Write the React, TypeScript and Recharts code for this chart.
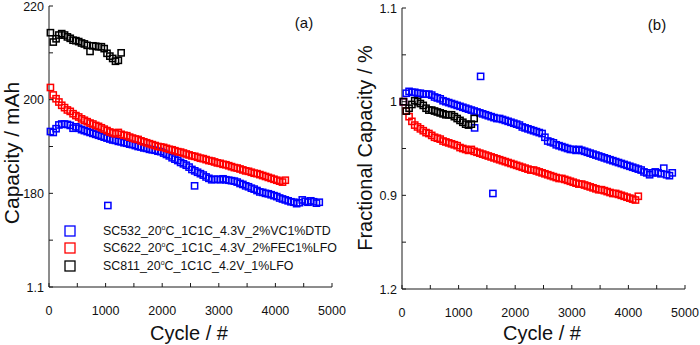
import React from 'react';
import { ScatterChart, Scatter, XAxis, YAxis, Legend } from 'recharts';

const FONT = '"Liberation Sans", Arial, Helvetica, sans-serif';
const AXIS = '#1a1a1a';

// cycle numbers shared by the series
const cycles = [
  25, 75, 125, 175, 225, 275, 325, 375, 425, 475,
  525, 575, 625, 675, 725, 775, 825, 875, 925, 975,
  1025, 1075, 1125, 1175, 1225, 1275, 1325, 1375, 1425, 1475,
  1525, 1575, 1625, 1675, 1725, 1775, 1825, 1875, 1925, 1975,
  2025, 2075, 2125, 2175, 2225, 2275, 2325, 2375, 2425, 2475,
  2525, 2575, 2625, 2675, 2725, 2775, 2825, 2875, 2925, 2975,
  3025, 3075, 3125, 3175, 3225, 3275, 3325, 3375, 3425, 3475,
  3525, 3575, 3625, 3675, 3725, 3775, 3825, 3875, 3925, 3975,
  4025, 4075, 4125, 4175, 4225, 4275, 4325, 4375, 4425, 4475,
  4525, 4575, 4625, 4675, 4725, 4775,
];

// (a) capacity / mAh
const capBlue = [
  193.2, 193.0, 193.8, 194.6, 194.8, 194.8, 194.7, 194.5, 193.9, 194.2,
  193.9, 193.6, 193.4, 193.2, 193.0, 192.8, 192.6, 192.4, 192.2, 192.0,
  191.8, 191.6, 191.4, 191.3, 191.1, 191.0, 190.8, 190.7, 190.5, 190.4,
  190.2, 190.0, 189.9, 189.7, 189.6, 189.4, 189.3, 189.2, 189.0, 188.9,
  188.6, 188.3, 188.0, 187.6, 187.3, 187.0, 186.6, 186.3, 186.0, 185.6,
  185.1, 184.8, 184.5, 184.2, 183.9, 183.5, 183.2, 182.9, 183.0, 183.0,
  182.9, 183.1, 182.9, 182.8, 182.7, 182.6, 182.4, 182.1, 181.9, 181.6,
  181.4, 181.1, 180.9, 180.6, 180.3, 180.2, 180.0, 179.9, 179.7, 179.5,
  179.3, 179.0, 178.8, 178.6, 178.4, 178.2, 178.1, 177.8, 178.0, 178.6,
  178.3, 178.1, 178.4, 178.2, 177.9, 178.1,
];
const capBlueOutlierCycles = [1040, 2572];
const capBlueOutliers = [177.4, 181.6];
const capRed = [
  202.6, 201.0, 200.2, 199.5, 198.8, 198.3, 197.8, 197.5, 197.0, 196.6,
  196.3, 195.9, 195.6, 195.3, 195.0, 194.8, 194.5, 194.3, 194.0, 193.7,
  193.4, 193.1, 192.9, 192.7, 193.0, 192.6, 192.4, 192.3, 192.0, 191.8,
  191.6, 191.5, 191.2, 191.0, 190.8, 190.6, 190.4, 190.2, 190.0, 189.9,
  189.8, 189.6, 189.4, 189.3, 189.1, 188.9, 188.8, 188.6, 188.4, 188.2,
  188.0, 187.9, 187.7, 187.5, 187.4, 187.2, 187.0, 186.9, 186.7, 186.5,
  186.4, 186.2, 186.1, 185.9, 185.7, 185.5, 185.4, 185.2, 185.0, 184.8,
  184.7, 184.5, 184.3, 184.2, 184.0, 183.8, 183.6, 183.4, 183.2, 183.0,
  182.8, 182.6, 182.4, 182.8,
];
const capBlack = [
  214.3, 212.3, 213.0, 213.8, 214.1, 213.8, 213.4, 213.1, 212.7, 212.6,
  212.4, 212.1, 211.9, 211.6, 210.3, 211.5, 211.4, 211.3, 211.3, 210.9,
  209.9, 209.3, 208.8, 208.2, 208.4, 210.0,
];

// (b) fractional capacity
const fracBlue = [
  1.000, 1.009, 1.011, 1.010, 1.010, 1.009, 1.009, 1.008, 1.008, 1.008,
  1.007, 1.005, 1.004, 1.003, 1.001, 1.000, 0.999, 0.998, 0.997, 0.996,
  0.995, 0.994, 0.993, 0.992, 0.991, 0.990, 0.989, 0.988, 0.987, 0.986,
  0.985, 0.984, 0.983, 0.982, 0.982, 0.981, 0.980, 0.979, 0.978, 0.977,
  0.976, 0.975, 0.973, 0.972, 0.971, 0.970, 0.969, 0.968, 0.967, 0.966,
  0.962, 0.958, 0.957, 0.956, 0.954, 0.953, 0.952, 0.951, 0.950, 0.949,
  0.949, 0.948, 0.949, 0.948, 0.947, 0.946, 0.945, 0.944, 0.943, 0.942,
  0.941, 0.940, 0.939, 0.938, 0.937, 0.936, 0.935, 0.934, 0.933, 0.932,
  0.931, 0.930, 0.929, 0.928, 0.927, 0.925, 0.924, 0.922, 0.924, 0.925,
  0.924, 0.923, 0.929, 0.922, 0.921, 0.924,
];
const fracBlueOutlierCycles = [1283, 1389, 1606];
const fracBlueOutliers = [0.972, 1.027, 0.902];
const fracRed = [
  1.000, 0.990, 0.984, 0.979, 0.975, 0.973, 0.971, 0.969, 0.967, 0.966,
  0.964, 0.962, 0.961, 0.960, 0.958, 0.957, 0.956, 0.955, 0.954, 0.953,
  0.951, 0.950, 0.949, 0.948, 0.949, 0.947, 0.946, 0.945, 0.944, 0.943,
  0.942, 0.941, 0.940, 0.939, 0.938, 0.937, 0.936, 0.935, 0.934, 0.933,
  0.932, 0.931, 0.930, 0.929, 0.928, 0.927, 0.927, 0.926, 0.925, 0.924,
  0.923, 0.922, 0.921, 0.920, 0.919, 0.918, 0.918, 0.917, 0.916, 0.915,
  0.914, 0.913, 0.912, 0.912, 0.911, 0.910, 0.909, 0.908, 0.907, 0.906,
  0.906, 0.905, 0.904, 0.903, 0.902, 0.902, 0.901, 0.900, 0.899, 0.898,
  0.897, 0.896, 0.895, 0.899,
];
const fracBlack = [
  1.000, 0.990, 0.993, 0.997, 1.001, 1.000, 0.998, 0.996, 0.993, 0.991,
  0.991, 0.990, 0.989, 0.988, 0.987, 0.986, 0.986, 0.986, 0.984, 0.982,
  0.980, 0.978, 0.976, 0.975, 0.976, 0.982,
];

const seriesNames = [
  'SC532_20°C_1C1C_4.3V_2%VC1%DTD',
  'SC622_20°C_1C1C_4.3V_2%FEC1%LFO',
  'SC811_20°C_1C1C_4.2V_1%LFO',
];
const seriesColors = ['#0000ff', '#ff0000', '#000000'];

const xTicks = [0, 500, 1000, 1500, 2000, 2500, 3000, 3500, 4000, 4500, 5000];
const xTickLabels = ['0', '', '1000', '', '2000', '', '3000', '', '4000', '', '5000'];
const capTicks = [160, 170, 180, 190, 200, 210, 220];
const capTickLabels = ['1.1', '', '180', '', '200', '', '220'];
const fracTicks = [0.8, 0.85, 0.9, 0.95, 1.0, 1.05, 1.1];
const fracTickLabels = ['1.2', '', '0.9', '', '1', '', '1.1'];

const toPoints = (xs: number[], ys: number[]) => ys.map((y, i) => ({ x: xs[i], y }));

const square = (color: string) => (props: any) => {
  const { cx, cy } = props;
  if (cx == null || cy == null) return null;
  return (
    <rect x={cx - 3.1} y={cy - 3.1} width={6.2} height={6.2} fill="none" stroke={color} strokeWidth={1.5} />
  );
};

const leftTick = (ticks: number[], labels: string[]) => (props: any) => {
  const { x, y, payload } = props;
  const i = ticks.indexOf(payload.value);
  return (
    <g>
      <line x1={x} x2={x + 4} y1={y} y2={y} stroke={AXIS} strokeWidth={1} />
      <text x={x - 5} y={y} dy="0.36em" textAnchor="end" fontSize={12.5} fontFamily={FONT} fill="#111">
        {i >= 0 ? labels[i] : ''}
      </text>
    </g>
  );
};
const rightTick = (props: any) => {
  const { x, y } = props;
  return <line x1={x} x2={x - 4} y1={y} y2={y} stroke={AXIS} strokeWidth={1} />;
};
const bottomTick = (props: any) => {
  const { x, y, payload } = props;
  const i = xTicks.indexOf(payload.value);
  return (
    <g>
      <line x1={x} x2={x} y1={y} y2={y - 4} stroke={AXIS} strokeWidth={1} />
      <text x={x} y={y + 28} textAnchor="middle" fontSize={12.5} fontFamily={FONT} fill="#111">
        {i >= 0 ? xTickLabels[i] : ''}
      </text>
    </g>
  );
};

const renderName = (name: string) => {
  const parts = name.split('°');
  return (
    <span>
      {parts[0]}
      <sup style={{ fontSize: 7, verticalAlign: 'top', lineHeight: '8px' }}>o</sup>
      {parts[1]}
    </span>
  );
};

const LegendContent = (props: any) => {
  const payload = (props.payload || []) as any[];
  const items = payload.length ? payload.map((p: any) => ({ name: p.value, color: p.color })) :
    seriesNames.map((n, i) => ({ name: n, color: seriesColors[i] }));
  return (
    <div style={{ fontFamily: FONT, fontSize: 12.4, color: '#111' }}>
      {items.map((it: any) => (
        <div key={it.name} style={{ display: 'flex', alignItems: 'center', height: 17.5 }}>
          <svg width={12} height={12} style={{ display: 'block' }}>
            <rect x={1} y={1} width={10} height={10} fill="none" stroke={it.color} strokeWidth={1.3} />
          </svg>
          <div style={{ marginLeft: 27, whiteSpace: 'nowrap' }}>{renderName(it.name)}</div>
        </div>
      ))}
    </div>
  );
};

const Panel = (p: {
  blue: any[]; red: any[]; black: any[]; domain: [number, number]; ticks: number[]; labels: string[];
  margin: any; yWidth: number; xHeight: number; legend?: boolean;
}) => (
  <ScatterChart width={350} height={345} margin={p.margin}>
    <XAxis xAxisId="b" dataKey="x" type="number" domain={[0, 5000]} ticks={xTicks} interval={0}
      tickSize={0} tickMargin={0} tickLine={false} tick={bottomTick} height={p.xHeight}
      axisLine={{ stroke: AXIS, strokeWidth: 1 }} />
    <XAxis xAxisId="t" dataKey="x" type="number" orientation="top" domain={[0, 5000]} height={0}
      tick={false} tickLine={false} axisLine={{ stroke: AXIS, strokeWidth: 1 }} />
    <YAxis yAxisId="l" dataKey="y" type="number" domain={p.domain} ticks={p.ticks} interval={0}
      tickSize={0} tickMargin={0} tickLine={false} tick={leftTick(p.ticks, p.labels)} width={p.yWidth}
      axisLine={{ stroke: AXIS, strokeWidth: 1 }} />
    <YAxis yAxisId="r" dataKey="y" type="number" orientation="right" domain={p.domain} ticks={p.ticks}
      interval={0} tickSize={0} tickMargin={0} tickLine={false} tick={rightTick} width={0}
      axisLine={{ stroke: AXIS, strokeWidth: 1 }} />
    <Scatter name={seriesNames[0]} data={p.blue} xAxisId="b" yAxisId="l" fill={seriesColors[0]}
      shape={square(seriesColors[0])} isAnimationActive={false} />
    <Scatter name={seriesNames[1]} data={p.red} xAxisId="b" yAxisId="l" fill={seriesColors[1]}
      shape={square(seriesColors[1])} isAnimationActive={false} />
    <Scatter name={seriesNames[2]} data={p.black} xAxisId="b" yAxisId="l" fill={seriesColors[2]}
      shape={square(seriesColors[2])} isAnimationActive={false} />
    {p.legend ? (
      <Legend layout="vertical" align="center" verticalAlign="middle" content={LegendContent}
        wrapperStyle={{ position: 'absolute', left: 64, top: 222, width: 'auto', height: 'auto' }} />
    ) : null}
  </ScatterChart>
);

export default function App() {
  const capBlueData = toPoints(cycles, capBlue).concat(toPoints(capBlueOutlierCycles, capBlueOutliers));
  const capRedData = toPoints(cycles, capRed);
  const capBlackData = toPoints(cycles, capBlack);
  const fracBlueData = toPoints(cycles, fracBlue).concat(toPoints(fracBlueOutlierCycles, fracBlueOutliers));
  const fracRedData = toPoints(cycles, fracRed);
  const fracBlackData = toPoints(cycles, fracBlack);
  const titleStyle = { fontFamily: FONT, fill: '#111' } as any;
  return (
    <div style={{ position: 'absolute', left: 0, top: 0, width: 700, height: 345, background: '#fff', overflow: 'hidden' }}>
      <div style={{ position: 'absolute', left: 0, top: 0 }}>
        <Panel blue={capBlueData} red={capRedData} black={capBlackData} domain={[160, 220]}
          ticks={capTicks} labels={capTickLabels} margin={{ top: 6, right: 18, bottom: 0, left: 0 }}
          yWidth={49} xHeight={58} legend />
      </div>
      <div style={{ position: 'absolute', left: 350, top: 0 }}>
        <Panel blue={fracBlueData} red={fracRedData} black={fracBlackData} domain={[0.8, 1.1]}
          ticks={fracTicks} labels={fracTickLabels} margin={{ top: 8, right: 15, bottom: 0, left: 0 }}
          yWidth={52} xHeight={56} />
      </div>
      <svg width={700} height={345} style={{ position: 'absolute', left: 0, top: 0, pointerEvents: 'none' }}>
        <text x={19} y={153} transform="rotate(-90 19 153)" textAnchor="middle" fontSize={21} style={titleStyle}>Capacity / mAh</text>
        <text x={372} y={148} transform="rotate(-90 372 148)" textAnchor="middle" fontSize={20} style={titleStyle}>Fractional Capacity / %</text>
        <text x={189} y={340} textAnchor="middle" fontSize={20} style={titleStyle}>Cycle / #</text>
        <text x={542} y={340} textAnchor="middle" fontSize={20} style={titleStyle}>Cycle / #</text>
        <text x={304} y={28} textAnchor="middle" fontSize={15} style={titleStyle}>(a)</text>
        <text x={657} y={30} textAnchor="middle" fontSize={15} style={titleStyle}>(b)</text>
      </svg>
    </div>
  );
}
